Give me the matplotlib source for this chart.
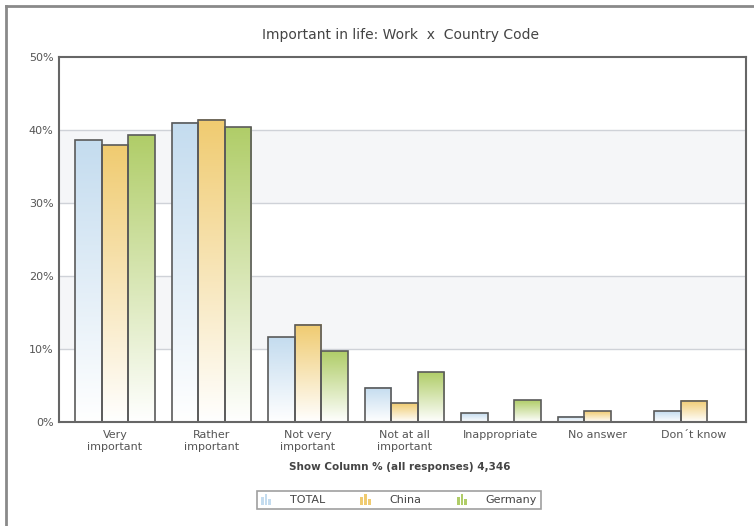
import matplotlib
matplotlib.use("Agg")
import matplotlib.pyplot as plt
import numpy as np
from matplotlib.colors import LinearSegmentedColormap
from matplotlib.legend_handler import HandlerBase
from matplotlib.patches import Rectangle
from matplotlib.lines import Line2D

categories = ["Very\nimportant", "Rather\nimportant", "Not very\nimportant",
              "Not at all\nimportant", "Inappropriate", "No answer", "Don\u00b4t know"]
total = [38.6, 41.0, 11.6, 4.7, 1.2, 0.7, 1.5]
china = [37.9, 41.4, 13.3, 2.6, 0.0, 1.5, 2.9]
germany = [39.3, 40.4, 9.7, 6.8, 3.0, 0.0, 0.0]
series = ["TOTAL", "China", "Germany"]
top_colors = ["#c4dcef", "#f0cb70", "#b0cd68"]

fig = plt.figure(figsize=(7.54, 5.26), dpi=100)
W, H = 754, 526
ax = fig.add_axes([59 / W, 1 - 422 / H, 687 / W, 365 / H])

# outer frame (top and left only)
fig.add_artist(Line2D([6 / W, 1], [1 - 6 / H, 1 - 6 / H], color="#8a8a8a", lw=2, transform=fig.transFigure))
fig.add_artist(Line2D([6 / W, 6 / W], [0, 1 - 6 / H], color="#8a8a8a", lw=2, transform=fig.transFigure))

xlim = (-0.58, 6.54)
ylim = (0, 50)

# alternating bands + grid
for lo in (10, 30):
    ax.axhspan(lo, lo + 10, color="#f5f6f8", zorder=0, lw=0)
for y in (10, 20, 30, 40):
    ax.axhline(y, color="#cfd2d8", lw=1, zorder=0.5)

x = np.arange(len(categories))
bw = 0.275
grad = np.linspace(1, 0, 256).reshape(-1, 1)
for i, (vals, c) in enumerate(zip([total, china, germany], top_colors)):
    bars = ax.bar(x + (i - 1) * bw, vals, bw, facecolor="none",
                  edgecolor="#5a5a5a", lw=1.2, zorder=3)
    cmap = LinearSegmentedColormap.from_list(series[i], ["#ffffff", c])
    for b in bars:
        h = b.get_height()
        if h <= 0:
            continue
        x0 = b.get_x()
        ax.imshow(grad, extent=[x0, x0 + b.get_width(), 0, h], cmap=cmap,
                  vmin=0, vmax=1, aspect="auto", zorder=2, interpolation="bilinear")
ax.set_xlim(*xlim)
ax.set_ylim(*ylim)

ax.set_yticks([0, 10, 20, 30, 40, 50])
ax.set_yticklabels([f"{v}%" for v in [0, 10, 20, 30, 40, 50]])
ax.set_xticks(x)
ax.set_xticklabels(categories, linespacing=1.2)
ax.tick_params(axis="both", length=0, colors="#555555", labelsize=8)
ax.tick_params(axis="x", pad=6)
ax.tick_params(axis="y", pad=4)
for s in ax.spines.values():
    s.set_color("#666666")
    s.set_linewidth(1.5)
    s.set_zorder(4)

fig.text(400 / W, 1 - 35 / H, "Important in life: Work  x  Country Code",
         ha="center", va="center", fontsize=10, color="#444444")
fig.text(400 / W, 1 - 467 / H, "Show Column % (all responses) 4,346",
         ha="center", va="center", fontsize=7.5, color="#444444", fontweight="bold")


class BarIcon(HandlerBase):
    # little three-bar glyph used as legend key
    def __init__(self, color):
        super().__init__()
        self.color = color

    def create_artists(self, legend, orig_handle, xdescent, ydescent, width, height, fontsize, trans):
        arts = []
        bw_ = width / 4
        for k, hh in enumerate([0.75, 1.1, 0.6]):
            arts.append(Rectangle((k * bw_ * 1.35, -0.15 * height), bw_, height * hh,
                                  facecolor=self.color, edgecolor="none", transform=trans))
        return arts


handles = [Rectangle((0, 0), 1, 1) for _ in series]
leg = fig.legend(handles, series, loc="center", bbox_to_anchor=(399 / W, 1 - 500 / H),
                 ncol=3, frameon=True, fontsize=8, handlelength=1.0, handleheight=1.0,
                 columnspacing=3.2, handletextpad=1.6, borderpad=0.35,
                 handler_map={h: BarIcon(c) for h, c in zip(handles, top_colors)})
leg.get_frame().set_edgecolor("#888888")
leg.get_frame().set_linewidth(1.2)
leg.get_frame().set_boxstyle("square", pad=0)
for t in leg.get_texts():
    t.set_color("#444444")

fig.savefig("out.png", dpi=100)
